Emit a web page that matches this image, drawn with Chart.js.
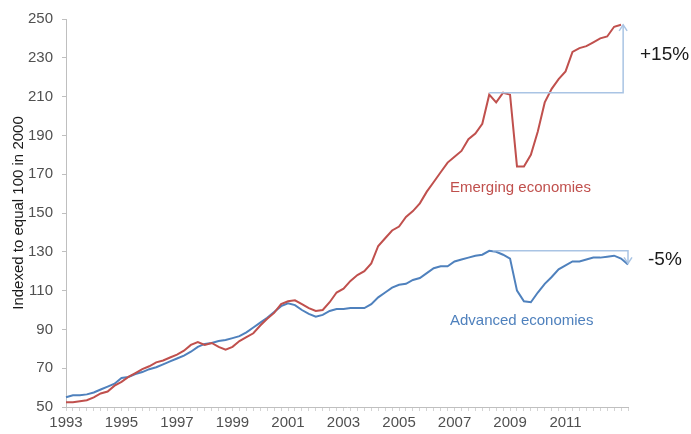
<!DOCTYPE html>
<html>
<head>
<meta charset="utf-8">
<script src="https://cdn.jsdelivr.net/npm/chart.js@4/dist/chart.umd.min.js"></script>
<style>
  html, body { margin: 0; padding: 0; background: #fff; }
  #wrap { width: 691px; height: 434px; }
</style>
</head>
<body>
<div id="wrap"><canvas id="chart" width="691" height="434"></canvas></div>
<script>
// quarterly periods, 1993 Q1 .. 2013 Q2
const periods = [];
for (let y = 1993; y <= 2013; y++) {
  for (let q = 1; q <= 4; q++) periods.push(y + " Q" + q);
}
periods.length = 82;

const yearTicks = ["1993", "1995", "1997", "1999", "2001", "2003", "2005", "2007", "2009", "2011"];

const emerging = [
  52.5, 52.5, 53, 53.5,
  55, 57, 58, 61,
  63, 65.5, 67.5, 69.5,
  71, 73, 74, 75.5,
  77, 79, 82, 83.5,
  82, 83, 81, 79.5,
  81, 84, 86, 88,
  92, 95.5, 98.5, 103,
  104.5, 105, 103, 101,
  99.5, 100, 104, 109,
  111, 115, 118, 120,
  124, 133, 137, 141,
  143, 148, 151, 155,
  161, 166, 171, 176,
  179, 182, 188, 191,
  196, 211, 207, 212,
  211, 174, 174, 180,
  192, 207, 214, 219,
  223, 233, 235, 236,
  238, 240, 241, 246,
  247, null
];

const advanced = [
  55, 56, 56, 56.5,
  57.5, 59, 60.5, 62,
  65, 65.5, 67, 68,
  69.5, 70.5, 72, 73.5,
  75, 76.5, 78.5, 81,
  82.5, 83, 84, 84.5,
  85.5, 86.5, 88.5, 91,
  93.5, 96, 99, 102,
  103.5, 102.5, 100, 98,
  96.5, 97.5, 99.5, 100.5,
  100.5, 101, 101, 101,
  103, 106.5, 109, 111.5,
  113, 113.5, 115.5, 116.5,
  119, 121.5, 122.5, 122.5,
  125, 126, 127, 128,
  128.5, 130.5, 130, 128.5,
  126.5, 110, 104.5, 104,
  109, 113.5, 117, 121,
  123, 125, 125, 126,
  127, 127, 127.5, 128,
  126.5, 123.5
];

const FONT = "'Liberation Sans', Arial, sans-serif";
const RED = "#c0504d";
const BLUE = "#4f81bd";
const BRACKET = "#a9c4e4";

// change brackets: [start index, end index, from value, to value]
const emergingBracket = [61, 80.3, 212, 247];
const advancedBracket = [61.5, 81, 130.5, 124];

function drawBracket(ctx, xs, ys, b) {
  const x1 = xs.getPixelForValue(b[0]);
  const x2 = xs.getPixelForValue(b[1]);
  const y1 = ys.getPixelForValue(b[2]);
  const y2 = ys.getPixelForValue(b[3]);
  ctx.beginPath();
  ctx.moveTo(x1, y1);
  ctx.lineTo(x2, y1);
  ctx.lineTo(x2, y2);
  ctx.stroke();
  const dir = y2 < y1 ? 1 : -1;
  ctx.beginPath();
  ctx.moveTo(x2 - 4, y2 + dir * 6);
  ctx.lineTo(x2, y2);
  ctx.lineTo(x2 + 4, y2 + dir * 6);
  ctx.stroke();
}

const annotations = {
  id: "annotations",
  afterDatasetsDraw(chart) {
    const ctx = chart.ctx;
    const xs = chart.scales.x;
    const ys = chart.scales.y;
    ctx.save();
    ctx.strokeStyle = BRACKET;
    ctx.lineWidth = 1.5;
    drawBracket(ctx, xs, ys, emergingBracket);
    drawBracket(ctx, xs, ys, advancedBracket);

    ctx.textBaseline = "middle";
    ctx.textAlign = "left";
    ctx.font = "15px " + FONT;
    ctx.fillStyle = RED;
    ctx.fillText("Emerging economies", 450, 188);
    ctx.fillStyle = BLUE;
    ctx.fillText("Advanced economies", 450, 321);

    ctx.fillStyle = "#1a1a1a";
    ctx.font = "19px " + FONT;
    ctx.fillText("+15%", 640, 55);
    ctx.fillText("-5%", 648, 260);
    ctx.restore();
  }
};

new Chart(document.getElementById("chart"), {
  type: "line",
  data: {
    labels: periods,
    datasets: [
      {
        label: "Emerging economies",
        data: emerging,
        borderColor: RED,
        borderWidth: 2,
        pointRadius: 0,
        tension: 0,
      },
      {
        label: "Advanced economies",
        data: advanced,
        borderColor: BLUE,
        borderWidth: 2,
        pointRadius: 0,
        tension: 0,
      },
    ],
  },
  options: {
    responsive: false,
    animation: false,
    layout: { padding: { top: 19, right: 63, left: 0, bottom: 0 } },
    plugins: { legend: { display: false }, tooltip: { enabled: false } },
    scales: {
      x: {
        offset: false,
        grid: { drawOnChartArea: false, tickLength: 4, color: "#d4d4d4" },
        border: { color: "#bfbfbf" },
        ticks: {
          autoSkip: false,
          maxRotation: 0,
          padding: 3,
          color: "#505050",
          font: { family: FONT, size: 15 },
          callback: (v, i) => (i % 8 === 0 ? yearTicks[i / 8] || "" : ""),
        },
        afterFit: (s) => { s.height = 27; },
      },
      y: {
        min: 50,
        max: 250,
        grid: { drawOnChartArea: false, tickLength: 4, color: "#bfbfbf" },
        border: { color: "#bfbfbf" },
        ticks: {
          stepSize: 20,
          padding: 9,
          color: "#505050",
          font: { family: FONT, size: 15 },
        },
        title: {
          display: true,
          text: "Indexed to equal 100 in 2000",
          color: "#1a1a1a",
          font: { family: FONT, size: 15 },
          padding: { top: 10, bottom: 0 },
        },
        afterFit: (s) => { s.width = 66; },
      },
    },
  },
  plugins: [annotations],
});
</script>
</body>
</html>
